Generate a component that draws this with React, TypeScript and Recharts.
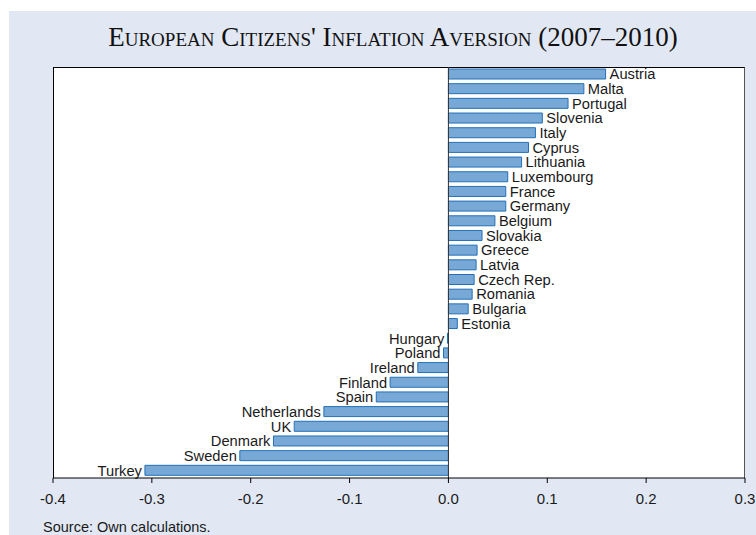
import React from "react";
import { BarChart, Bar, XAxis, YAxis, ReferenceLine } from "recharts";

const countries = [
  "Austria", "Malta", "Portugal", "Slovenia", "Italy", "Cyprus", "Lithuania",
  "Luxembourg", "France", "Germany", "Belgium", "Slovakia", "Greece", "Latvia",
  "Czech Rep.", "Romania", "Bulgaria", "Estonia", "Hungary", "Poland", "Ireland",
  "Finland", "Spain", "Netherlands", "UK", "Denmark", "Sweden", "Turkey",
];

const aversion = [
  0.159, 0.137, 0.121, 0.095, 0.088, 0.081, 0.074,
  0.06, 0.058, 0.058, 0.047, 0.034, 0.029, 0.028,
  0.026, 0.024, 0.02, 0.009, -0.001, -0.005, -0.031,
  -0.059, -0.073, -0.126, -0.156, -0.177, -0.211, -0.307,
];

const xTicks = [-0.4, -0.3, -0.2, -0.1, 0, 0.1, 0.2, 0.3];

const data = countries.map((name, i) => ({ name, value: aversion[i] }));

const SANS = '"Liberation Sans", Arial, sans-serif';

const renderLabel = (props: any) => {
  const { x, y, width, height, index } = props;
  const v = aversion[index];
  const a = Number(x);
  const b = Number(x) + Number(width);
  const cy = Number(y) + Number(height) / 2;
  const neg = v < 0;
  const end = neg ? Math.min(a, b) : Math.max(a, b);
  return (
    <text
      x={neg ? end - 3 : end + 4}
      y={cy}
      dy="0.36em"
      textAnchor={neg ? "end" : "start"}
      fontSize={14.7}
      fontFamily={SANS}
      fill="#1a1a1a"
    >
      {countries[index]}
    </text>
  );
};

export default function App() {
  return (
    <div style={{ position: "absolute", left: 0, top: 0, width: 756, height: 535, background: "#fff", overflow: "hidden" }}>
      <div style={{ position: "absolute", left: 9, top: 11, right: 0, bottom: 0, background: "#e1e8f4" }} />
      <div
        style={{
          position: "absolute",
          left: 53,
          top: 67,
          width: 692,
          height: 411,
          background: "#fff",
          borderTop: "1px solid #000",
          borderLeft: "1px solid #000",
          borderRight: "1px solid #555",
          boxSizing: "border-box",
        }}
      />
      <div
        style={{
          position: "absolute",
          left: 0,
          width: 786,
          top: 22,
          textAlign: "center",
          fontFamily: '"Liberation Serif", "Times New Roman", serif',
          fontVariant: "small-caps",
          fontSize: 27,
          lineHeight: "30px",
          color: "#111",
          whiteSpace: "nowrap",
        }}
      >
        European Citizens' Inflation Aversion (2007–2010)
      </div>
      <div
        style={{
          position: "absolute",
          left: 43,
          top: 519,
          fontFamily: SANS,
          fontSize: 14.5,
          lineHeight: "17px",
          color: "#1a1a1a",
        }}
      >
        Source: Own calculations.
      </div>
      <div style={{ position: "absolute", left: 0, top: 0 }}>
        <BarChart
          width={756}
          height={535}
          data={data}
          layout="vertical"
          margin={{ top: 67, right: 11, bottom: 17, left: 53 }}
          barSize={10}
        >
          <XAxis
            type="number"
            domain={[-0.4, 0.3]}
            ticks={xTicks}
            allowDataOverflow
            tickFormatter={(v: number) => v.toFixed(1)}
            tickSize={5}
            tickMargin={10}
            height={40}
            axisLine={{ stroke: "#000" }}
            tickLine={{ stroke: "#000" }}
            tick={{ fill: "#1a1a1a", fontSize: 15, fontFamily: SANS }}
          />
          <YAxis type="category" dataKey="name" hide />
          <Bar
            dataKey="value"
            fill="#78a9d6"
            stroke="#2370b8"
            strokeWidth={1}
            isAnimationActive={false}
            label={renderLabel}
          />
          <ReferenceLine x={0} stroke="#333" strokeWidth={1} />
        </BarChart>
      </div>
    </div>
  );
}
